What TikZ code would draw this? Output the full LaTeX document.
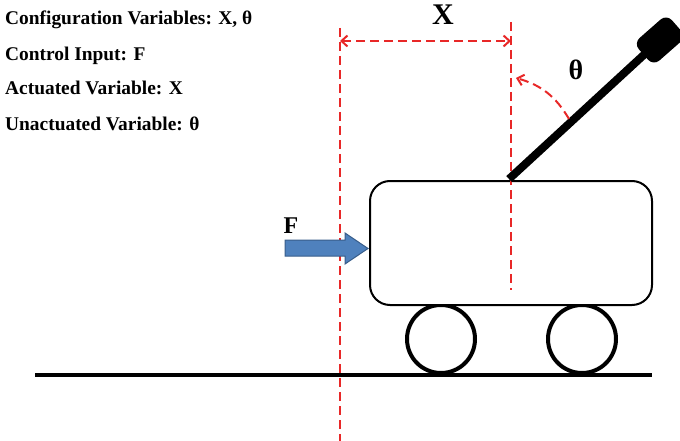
\documentclass[tikz,border=0pt]{standalone}
\usepackage{fontspec}
\setmainfont{Liberation Serif}
\newfontfamily\tnr{Liberation Serif}[BoldFont={Liberation Serif Bold}]
\usetikzlibrary{arrows.meta}
\definecolor{guide}{RGB}{232,40,40}
\definecolor{forcefill}{RGB}{79,129,189}
\definecolor{forceedge}{RGB}{56,93,138}
\begin{document}
\begin{tikzpicture}[x=1pt,y=-1pt,
  legend/.style={anchor=base west,inner sep=0pt,font=\tnr\fontsize{19.4}{21}\selectfont\bfseries},
  guideline/.style={draw=guide,line width=2pt,dash pattern=on 9pt off 5pt},
  guidearrow/.style={guideline,{Straight Barb[length=6pt,width=11pt]}-{Straight Barb[length=6pt,width=11pt]}},
  wheel/.style={circle,draw=black,line width=4pt,minimum size=68pt,inner sep=0pt},
  bigsym/.style={inner sep=0pt}
]
\useasboundingbox (0,0) rectangle (680,441);

% legend
\node[legend] (l1) at (5,25)  {Configuration Variables: X, θ};
\node[legend] (l2) at (5,61)  {Control Input: F};
\node[legend] (l3) at (5,95)  {Actuated Variable: X};
\node[legend] (l4) at (5,131) {Unactuated Variable: θ};

% ground
\coordinate (g1) at (35,375);
\coordinate (g2) at (652,375);
\draw[line width=4pt] (g1) -- (g2);

% wheels
\node[wheel] (w1) at (441,339) {};
\node[wheel] (w2) at (582,339) {};

% cart body
\draw[line width=2pt,rounded corners=20pt,fill=white] (370,181) rectangle (652,305);
\node[inner sep=0pt] (cart) at (511,243) {};

% reference lines
\coordinate (rl1) at (340,28);
\coordinate (rl2) at (340,441);
\coordinate (rc1) at (511,22);
\coordinate (rc2) at (511,290);
\draw[guideline] (rl1) -- (rl2);
\draw[guideline] (rc1) -- (rc2);

% displacement X
\coordinate (xa) at (340,41);
\coordinate (xb) at (511,41);
\draw[guidearrow] (xa) -- (xb);
\node[bigsym,font=\tnr\fontsize{30}{32}\selectfont\bfseries] (xlab) at (443,15) {X};

% pendulum
\coordinate (pivot) at (509,179);
\node[rectangle,rounded corners=8pt,rotate=41.3,fill=black,minimum width=44pt,minimum height=30pt,inner sep=0pt] (bob) at (660,40) {};
\draw[line width=8pt] (pivot) -- (bob.center);

% angle theta
\coordinate (ta) at (569,119);
\coordinate (tb) at (516,78);
\draw[guideline,-{Straight Barb[length=6pt,width=11pt]}] (ta) to[bend right=22] (tb);
\node[bigsym,font=\tnr\fontsize{28}{30}\selectfont\bfseries] (tlab) at (576,70) {θ};

% force F
\draw[fill=forcefill,draw=forceedge,line width=1pt]
  (285,240) -- (345,240) -- (345,233) -- (368,248.5) -- (345,264) -- (345,256) -- (285,256) -- cycle;
\node[bigsym,font=\tnr\fontsize{24}{26}\selectfont\bfseries] (flab) at (291,226) {F};
\end{tikzpicture}
\end{document}
